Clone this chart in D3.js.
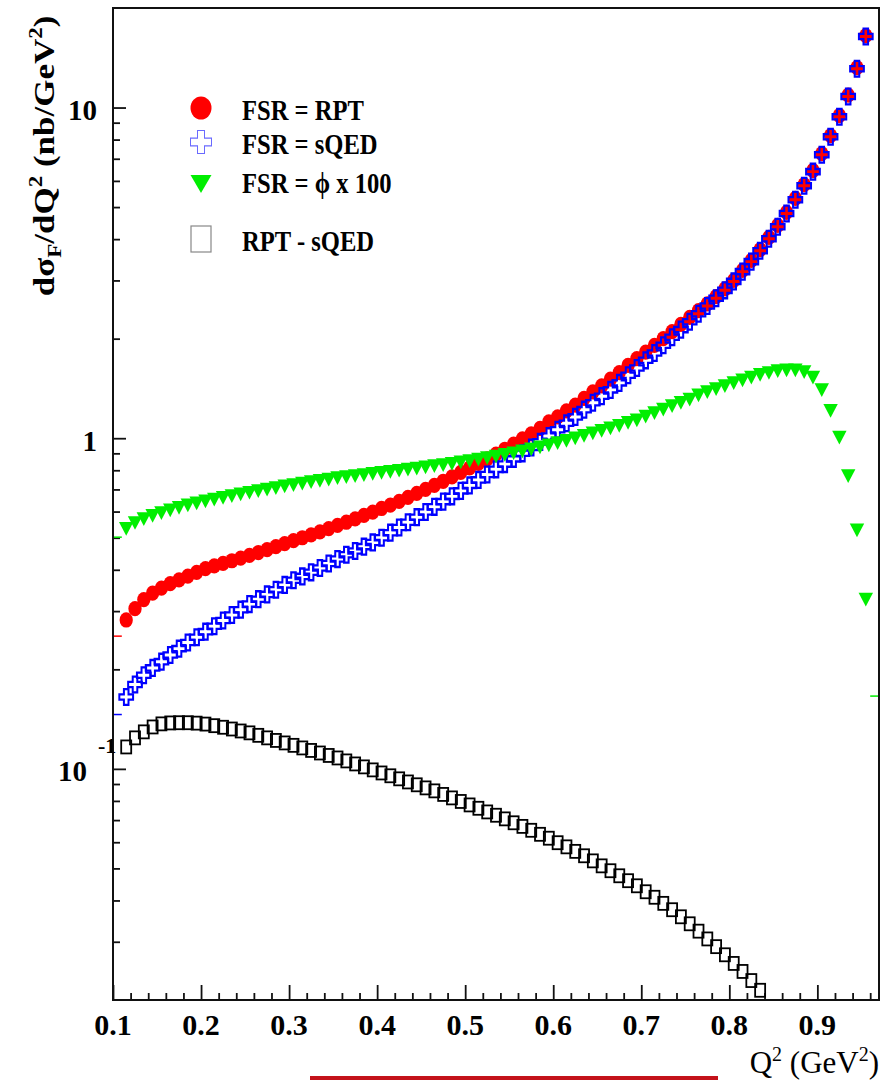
<!DOCTYPE html>
<html>
<head>
<meta charset="utf-8">
<script src="https://cdn.jsdelivr.net/npm/d3@7/dist/d3.min.js"></script>
<style>
body { margin: 0; background: #fff; }
svg text { font-family: "Liberation Serif", "Times New Roman", serif; }
</style>
</head>
<body>
<div id="chart"></div>
<script>
// bin centres in Q^2 (GeV^2)
var q2 = [0.115,0.125,0.135,0.145,0.155,0.165,0.175,0.185,0.195,0.205,
          0.215,0.225,0.235,0.245,0.255,0.265,0.275,0.285,0.295,0.305,
          0.315,0.325,0.335,0.345,0.355,0.365,0.375,0.385,0.395,0.405,
          0.415,0.425,0.435,0.445,0.455,0.465,0.475,0.485,0.495,0.505,
          0.515,0.525,0.535,0.545,0.555,0.565,0.575,0.585,0.595,0.605,
          0.615,0.625,0.635,0.645,0.655,0.665,0.675,0.685,0.695,0.705,
          0.715,0.725,0.735,0.745,0.755,0.765,0.775,0.785,0.795,0.805,
          0.815,0.825,0.835,0.845,0.855,0.865,0.875,0.885,0.895,0.905,
          0.915,0.925,0.935,0.945,0.955];

// FSR = RPT
var rpt = [0.282,0.305,0.325,0.340,0.352,0.363,0.373,0.383,0.393,0.403,
           0.411,0.418,0.426,0.434,0.442,0.451,0.460,0.470,0.480,0.490,
           0.500,0.510,0.521,0.533,0.545,0.557,0.570,0.584,0.598,0.613,
           0.628,0.644,0.662,0.681,0.700,0.720,0.741,0.764,0.788,0.813,
           0.839,0.866,0.895,0.926,0.960,0.995,1.03,1.07,1.12,1.16,
           1.21,1.26,1.32,1.38,1.44,1.51,1.58,1.66,1.74,1.82,
           1.91,2.00,2.10,2.21,2.32,2.43,2.55,2.68,2.83,3.00,
           3.22,3.45,3.72,4.05,4.40,4.82,5.31,5.85,6.45,7.26,
           8.23,9.46,10.9,13.2,16.5];

// FSR = sQED
var sqed = [0.165,0.180,0.192,0.202,0.211,0.221,0.231,0.241,0.250,0.260,
            0.270,0.281,0.292,0.303,0.315,0.326,0.337,0.348,0.360,0.372,
            0.382,0.393,0.405,0.418,0.431,0.444,0.456,0.470,0.484,0.500,
            0.518,0.537,0.557,0.577,0.598,0.620,0.643,0.667,0.693,0.720,
            0.748,0.777,0.805,0.835,0.866,0.900,0.937,0.975,1.015,1.06,
            1.11,1.16,1.22,1.28,1.34,1.40,1.47,1.55,1.63,1.72,
            1.81,1.91,2.02,2.13,2.25,2.38,2.51,2.65,2.80,2.98,
            3.19,3.42,3.69,4.01,4.36,4.78,5.26,5.80,6.40,7.20,
            8.16,9.38,10.8,13.1,16.4];

// FSR = phi x 100
var phi100 = [0.540,0.563,0.578,0.592,0.603,0.615,0.626,0.636,0.645,0.654,
              0.663,0.671,0.679,0.687,0.695,0.703,0.710,0.718,0.726,0.733,
              0.740,0.748,0.755,0.762,0.769,0.775,0.780,0.786,0.792,0.798,
              0.804,0.810,0.816,0.822,0.829,0.836,0.843,0.850,0.858,0.866,
              0.875,0.884,0.894,0.904,0.915,0.927,0.940,0.953,0.967,0.982,
              0.998,1.015,1.032,1.050,1.069,1.088,1.108,1.13,1.15,1.18,
              1.21,1.24,1.27,1.30,1.33,1.37,1.40,1.43,1.46,1.49,
              1.52,1.55,1.58,1.60,1.62,1.63,1.63,1.61,1.55,1.42,
              1.23,1.02,0.78,0.535,0.33];

// RPT - sQED (visible down to Q^2 = 0.835)
var diff = [0.1165,0.1241,0.1294,0.1339,0.1368,0.1377,0.1379,0.1379,0.1375,0.1366,
            0.1351,0.1336,0.1320,0.1302,0.1285,0.1263,0.1241,0.1219,0.1198,0.1178,
            0.1157,0.1137,0.1117,0.1098,0.1079,0.1057,0.1035,0.1014,0.0993,0.0972,
            0.0953,0.0933,0.0913,0.0895,0.0876,0.0858,0.0837,0.0817,0.0797,0.0778,
            0.0760,0.0741,0.0724,0.0706,0.0687,0.0670,0.0652,0.0634,0.0617,0.0598,
            0.0581,0.0563,0.0546,0.0527,0.0509,0.0492,0.0475,0.0459,0.0443,0.0425,
            0.0409,0.0392,0.0375,0.0357,0.0340,0.0323,0.0306,0.0290,0.0274,0.0258,
            0.0244,0.0229,0.0214];

// edge bins drawn without marker (only the bin line shows)
var stubSeries = ['rpt', 'sqed', 'phi', 'phi'];
var stubQ2 = [0.105, 0.105, 0.105, 0.965];
var stubVal = [0.252, 0.146, 0.502, 0.166];

var xTicks = [0.1, 0.2, 0.3, 0.4, 0.5, 0.6, 0.7, 0.8, 0.9];
var xTickLabels = ['0.1', '0.2', '0.3', '0.4', '0.5', '0.6', '0.7', '0.8', '0.9'];
var xMinorTicks = [0.12,0.14,0.16,0.18,0.22,0.24,0.26,0.28,0.32,0.34,0.36,0.38,
                   0.42,0.44,0.46,0.48,0.52,0.54,0.56,0.58,0.62,0.64,0.66,0.68,
                   0.72,0.74,0.76,0.78,0.82,0.84,0.86,0.88,0.92,0.94,0.96];
var yTicks = [0.1, 1, 10];
var yMinorTicks = [0.03,0.04,0.05,0.06,0.07,0.08,0.09,
                   0.2,0.3,0.4,0.5,0.6,0.7,0.8,0.9,
                   2,3,4,5,6,7,8,9];

var legendLabels = ['FSR = RPT', 'FSR = sQED', 'FSR = \u03D5 x 100', 'RPT - sQED'];

var colors = { rpt: '#ff0000', sqed: '#0000ff', phi: '#00ee00', diff: '#000000' };

var W = 891, H = 1080;
var fLeft = 113, fRight = 879, fTop = 8, fBottom = 1000;

var svg = d3.select('#chart').append('svg')
    .attr('width', W)
    .attr('height', H);

var x = d3.scaleLinear().domain([0.1, 0.97]).range([fLeft, fRight]);
var y = d3.scaleLog().domain([0.02, 20]).range([fBottom, fTop]);

svg.append('defs').append('clipPath').attr('id', 'frame-clip')
    .append('rect')
    .attr('x', fLeft).attr('y', fTop)
    .attr('width', fRight - fLeft).attr('height', fBottom - fTop);

// ticks (inside the frame, ROOT style)
function tickAxis(axis, tr, len) {
    var g = svg.append('g').attr('transform', tr)
        .call(axis.tickSize(-len).tickFormat(''));
    g.select('.domain').remove();
    g.selectAll('line').attr('stroke', '#111').attr('stroke-width', 1.8);
}
tickAxis(d3.axisBottom(x).tickValues(xTicks), 'translate(0,' + fBottom + ')', 15);
tickAxis(d3.axisBottom(x).tickValues(xMinorTicks), 'translate(0,' + fBottom + ')', 7);
tickAxis(d3.axisLeft(y).tickValues(yTicks), 'translate(' + fLeft + ',0)', 13);
tickAxis(d3.axisLeft(y).tickValues(yMinorTicks), 'translate(' + fLeft + ',0)', 7);

var plot = svg.append('g').attr('clip-path', 'url(#frame-clip)');

function symbolPath(type, size) { return d3.symbol().type(type).size(size)(); }

// edge-bin stubs
plot.append('g').selectAll('line')
    .data(stubQ2.map(function(q, i) { return { q: q, v: stubVal[i], s: stubSeries[i] }; }))
    .join('line')
    .attr('x1', function(d) { return x(d.q - 0.005); })
    .attr('x2', function(d) { return x(d.q + 0.005); })
    .attr('y1', function(d) { return y(d.v); })
    .attr('y2', function(d) { return y(d.v); })
    .attr('stroke', function(d) { return colors[d.s]; })
    .attr('stroke-width', 1.5);

// RPT: filled red circles
plot.append('g').selectAll('path')
    .data(q2.map(function(q, i) { return [q, rpt[i]]; }))
    .join('path')
    .attr('d', symbolPath(d3.symbolCircle, 138))
    .attr('transform', function(d) { return 'translate(' + x(d[0]) + ',' + y(d[1]) + ') scale(1,1.15)'; })
    .attr('fill', colors.rpt);

// sQED: open blue crosses
plot.append('g').selectAll('path')
    .data(q2.map(function(q, i) { return [q, sqed[i]]; }))
    .join('path')
    .attr('d', symbolPath(d3.symbolCross, 105))
    .attr('transform', function(d) { return 'translate(' + x(d[0]) + ',' + y(d[1]) + ') scale(1,1.15)'; })
    .attr('fill', 'none')
    .attr('stroke', colors.sqed)
    .attr('stroke-width', 2);

// phi x 100: green down triangles
plot.append('g').selectAll('path')
    .data(q2.map(function(q, i) { return [q, phi100[i]]; }))
    .join('path')
    .attr('d', symbolPath(d3.symbolTriangle, 90))
    .attr('transform', function(d) { return 'translate(' + x(d[0]) + ',' + y(d[1]) + ') rotate(180) scale(1,1.1)'; })
    .attr('fill', colors.phi);

// RPT - sQED: open black squares
plot.append('g').selectAll('rect')
    .data(diff.map(function(v, i) { return [q2[i], v]; }))
    .join('rect')
    .attr('x', function(d) { return x(d[0]) - 5; })
    .attr('y', function(d) { return y(d[1]) - 6.5; })
    .attr('width', 10)
    .attr('height', 13)
    .attr('fill', 'none')
    .attr('stroke', colors.diff)
    .attr('stroke-width', 1.8);

// frame
svg.append('rect')
    .attr('x', fLeft).attr('y', fTop)
    .attr('width', fRight - fLeft).attr('height', fBottom - fTop)
    .attr('fill', 'none')
    .attr('stroke', '#111')
    .attr('stroke-width', 2);

// x tick labels
svg.append('g').selectAll('text')
    .data(xTicks)
    .join('text')
    .attr('x', function(d) { return x(d); })
    .attr('y', 1035)
    .attr('text-anchor', 'middle')
    .attr('font-size', 30)
    .attr('font-weight', 'bold')
    .text(function(d, i) { return xTickLabels[i]; });

// y tick labels
svg.append('text').attr('x', 97).attr('y', y(10) + 12)
    .attr('text-anchor', 'end').attr('font-size', 29).attr('font-weight', 'bold').text('10');
svg.append('text').attr('x', 97).attr('y', y(1) + 13)
    .attr('text-anchor', 'end').attr('font-size', 29).attr('font-weight', 'bold').text('1');
svg.append('text').attr('x', 87).attr('y', y(0.1) + 12)
    .attr('text-anchor', 'end').attr('font-size', 29).attr('font-weight', 'bold').text('10');
svg.append('text').attr('x', 98).attr('y', y(0.1) - 16)
    .attr('font-size', 22).attr('font-weight', 'bold').text('-1');

// y axis title
var yt = svg.append('text')
    .attr('transform', 'translate(54,156) rotate(-90) scale(1,0.85)')
    .attr('text-anchor', 'middle')
    .attr('font-size', 35)
    .attr('font-weight', 'bold');
yt.append('tspan').text('d\u03C3');
yt.append('tspan').attr('font-size', 23).attr('dy', 8).text('F');
yt.append('tspan').attr('dy', -8).text('/dQ');
yt.append('tspan').attr('font-size', 23).attr('dy', -14).text('2');
yt.append('tspan').attr('dy', 14).text(' (nb/GeV');
yt.append('tspan').attr('font-size', 23).attr('dy', -14).text('2');
yt.append('tspan').attr('dy', 14).text(')');

// x axis title
var xt = svg.append('text')
    .attr('x', fRight)
    .attr('y', 1073)
    .attr('text-anchor', 'end')
    .attr('font-size', 31);
xt.append('tspan').text('Q');
xt.append('tspan').attr('font-size', 20).attr('dy', -12).text('2');
xt.append('tspan').attr('dy', 12).text(' (GeV');
xt.append('tspan').attr('font-size', 20).attr('dy', -12).text('2');
xt.append('tspan').attr('dy', 12).text(')');

// legend
var legY = [108, 142, 181, 239];
var legend = svg.append('g');
legend.append('ellipse').attr('cx', 201).attr('cy', legY[0]).attr('rx', 10.5).attr('ry', 11.5)
    .attr('fill', colors.rpt);
legend.append('path').attr('d', symbolPath(d3.symbolCross, 245))
    .attr('transform', 'translate(201,' + legY[1] + ') scale(1,1.1)')
    .attr('fill', 'none').attr('stroke', '#6a6aff').attr('stroke-width', 1);
legend.append('path').attr('d', symbolPath(d3.symbolTriangle, 190))
    .attr('transform', 'translate(201,' + legY[2] + ') rotate(180)')
    .attr('fill', colors.phi);
legend.append('rect').attr('x', 191).attr('y', legY[3] - 13).attr('width', 20).attr('height', 26)
    .attr('fill', 'none').attr('stroke', '#888').attr('stroke-width', 1.2);

legend.selectAll('text')
    .data(legendLabels)
    .join('text')
    .attr('transform', function(d, i) { return 'translate(242,' + (legY[i] + 12) + ') scale(0.82,1)'; })
    .attr('font-size', 30)
    .attr('font-weight', 'bold')
    .text(function(d) { return d; });

// red bar under the figure
svg.append('rect')
    .attr('x', 310).attr('y', 1076)
    .attr('width', 408).attr('height', 4)
    .attr('fill', '#c4121a');
</script>
</body>
</html>
